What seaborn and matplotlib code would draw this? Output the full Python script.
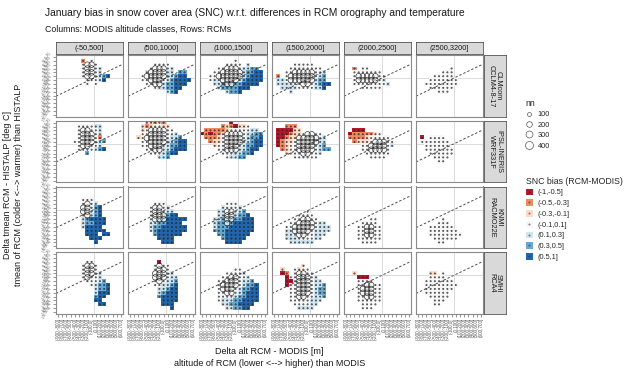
import matplotlib
matplotlib.use("Agg")
import matplotlib.pyplot as plt
from matplotlib.colors import ListedColormap
from matplotlib.lines import Line2D
from matplotlib.patches import Patch
from matplotlib.legend_handler import HandlerTuple
import numpy as np
import pandas as pd
import seaborn as sns

# ---- data ---------------------------------------------------------------
ALT_CLASSES = ["(-50,500]", "(500,1000]", "(1000,1500]", "(1500,2000]", "(2000,2500]", "(2500,3200]"]
RCMS = ["CLMcom\nCCLM4-8-17", "IPSL-INERIS\nWRF331F", "KNMI\nRACMO22E", "SMHI\nRCA4"]

# bin edges of the two discrete axes
ALT_EDGES = [-900, -800, -700, -600, -500, -400, -300, -200, -100, 0, 100, 200, 300, 400, 500, 600, 700]
TEMP_EDGES = [3, 2.5, 2, 1.5, 1, 0.5, 0, -0.5, -1, -1.5, -2, -2.5, -3, -3.5, -4, -4.5, -5]

BIAS_CLASSES = ["(-1,-0.5]", "(-0.5,-0.3]", "(-0.3,-0.1]", "(-0.1,0.1]", "(0.1,0.3]", "(0.3,0.5]", "(0.5,1]"]
BIAS_COLORS = ["#b2182b", "#ef8a62", "#fddbc7", "#f7f7f7", "#d1e5f0", "#67a9cf", "#2166ac"]
BIAS_CODES = "abcdefg"          # letter per bias class in the grids below
N_SMALL, N_LARGE = 10, 190      # lower case letter -> few pixels, upper case -> many
SIZE_BREAKS = [100, 200, 300, 400]
DIAG_SLOPE = 0.0026             # degC per m, dashed reference line

# per panel: (first grid row, rows of the tile grid; '.' = no data)
CLMCOM = [
    (1, ["......b.d.......", "......dDDd......", "......dDDde.....", "......dDDde.....",
         "......dDDdefg...", ".......dddeg....", ".......d.d......"]),
    (2, ["......dddd......", ".....dDDDde.....", "....eDDDDee.ff..", "...dDDDDDeefgg..",
         "...ddDDDdefgggg.", "....ddDDeffggg..", "......deeffgg...", ".........efg...."]),
    (1, ["........d.......", "......dddd.e....", "....ddDDDdeeff..", "...ddDDDDDeffgg.",
         "..ddDDDDDDefggg.", "..deeDDDDefgggg.", "...eefEEffgggg..", "....effffggg....",
         "......effg......"]),
    (2, [".....ddddd......", "....dddddddd....", "...ddDDDDDdde...", ".b.dDDDDDDdef...",
         ".eedDDDDDDeff...", ".eeeeddDDdefgg..", "..eeeeddddeeg...", "....e..........."]),
    (3, ["..b.dd..........", "..ddddddd.......", "..dDDDDDdd......", "..dDDDDDde......",
         "..dddddddde.....", "....ddddd......."]),
    (3, ["........d.......", "......ddd.......", "....ddddd.......", "...ddddddd......",
         "..dddddddd......", "...dddddd.......", ".....ddd........"]),
]
IPSL = [
    (1, [".....ddddee.....", ".....dDDdde.....", ".....dDDDde.....", ".....dDDDdb.....",
         "....ddDDDdef....", ".....dDDdde.....", ".....ddddefg....", ".......f........"]),
    (0, ["....ccbcb.......", "...cbcddcc......", "...cdDDDDdd.....", "...ddDDDDdde....",
         "..cdDDDDDdeef...", "...ddDDDDeefgg..", "...ddDDDdeffgg..", "....ddDDeefggg..",
         ".....dddefgg....", ".......eef......"]),
    (0, [".......a........", ".....bcbaccd....", ".bbbbbcdddddee..", "ababbcDDDDdeeff.",
         ".bbbcdDDDDdeffg.", "..bccdDDDDeefgg.", "...cddDDDdeffgg.", "....ddDDDeefgg..",
         ".....dddeeffg...", "......deeff....."]),
    (1, ["...bbb..........", ".aaaacc.........", ".aaabccdDDdd....", ".aabccDDDDDde...",
         ".abccdDDDDDee...", ".abcddDDDDdef...", "..bcddDDDDdeff..", "...cdddDDdde....",
         ".....dddddd....."]),
    (2, ["..aaa...........", ".abbbbbcd.......", ".bbbbcddddd.....", "..bcccdDDDdd....",
         "....ddDDDDde....", "....ddDDDDd.....", ".....dddddd.....", "......dddd......"]),
    (4, [".a.dddd.........", ".ddddddd........", "..dddddd........", "..ddddddd.......",
         "...dddddd.......", "....dddd........", ".....dd........."]),
]
KNMI = [
    (3, ["......ddd.......", "......dDde......", "......DDdfg.....", "......DDdfg.....",
         "......dDefg.....", "......efgggg....", "......effggg....", "......egggg.....",
         ".......ggggg....", ".......ggg.gg...", "........ggg.....", ".........g......"]),
    (4, ["......ddd.......", ".....dDDde......", ".....dDDdee.....", ".....dDDEfgg....",
         ".....dDEEggggg..", ".....eeffgggg...", ".....effgggggg..", ".....efggggggg..",
         "......fgggggg...", ".......gggg.....", "........ggg....."]),
    (4, ["......ddd.......", ".....eddde......", "....eeDDdef.....", "....eeDDeffg....",
         "...eefEEffggg...", "...effEfggggg...", "...efffgggggg...", "...fffggggggg...",
         "....ffgggggg....", ".....fggggg.....", "......gggg......"]),
    (6, ["........d.......", "......dddd......", ".....ddDDdd.....", "....ddDDDDdee...",
         "...ddDDDDDdeee..", "...eeDDDDdeeee..", "...eedDDddeee...", "...eeeddddee....",
         "....eeeeee......"]),
    (8, ["......dd........", "....dddd........", "...ddDDdd.......", "...ddDDdd.......",
         "...ddDDdd.......", "...dddddd.......", "....dddd........"]),
    (8, ["......d.........", ".....ddd........", "...dddddd.......", "...ddddddd......",
         "...dddddddd.....", "....dddddd......", ".....dd........."]),
]
SMHI = [
    (2, [".......dd.......", "......dDDd......", "......dDDd......", "......dDDde.....",
         "......dDdde.....", ".......dddef....", "........deffg...", ".........effg...",
         ".........eggg...", ".........fgg....", ".........gg.....", "..........gg...."]),
    (2, [".......a........", "......dDdd......", "......dDDd......", "......DDDde.....",
         "......DDDdee....", "......dDdeef....", "......ddeefg....", ".......eefgg....",
         ".......efggg....", ".......fgggg....", "........gggg....", "........ggg.....",
         "..........g....."]),
    (4, ["........dd......", "......dddde.....", ".....ddDDdde....", "....ddDDDdeef...",
         "....dDDDDdeffg..", "....dDDDdeffgg..", "....ddDDdefggg..", "....ddddeffggg..",
         "....deeeffgggg..", ".....eeffgggg...", "......eeffgg...."]),
    (3, [".......c........", "..c..dcdd.......", "..ab.dDDdd......", "...addDDDde.....",
         "...aadDDDdee....", "...addDDDdeef...", "....ddDDDdeff...", "....ddDDDdeff...",
         "....ddDDddeef...", "....dddddeee....", ".....ddddee.....", "......eeee......"]),
    (5, ["..c.............", "...aaa..........", "...dddd.........", "...ddDDdd.......",
         "...dDDDdd.......", "...dDDDdd.......", "...ddDDdd.......", "...dddddd.......",
         "....dddd........", "....ddd........."]),
    (5, ["...cc.d.........", "...dddd.........", "..ddddddd.......", "..dddddddd......",
         "..ddddddd.......", "..dddddd........", "...ddddd........", "....ddd.........",
         "....dd.........."]),
]
PANELS = [CLMCOM, IPSL, KNMI, SMHI]

X_LABELS = [f"({a},{b}]" for a, b in zip(ALT_EDGES[:-1], ALT_EDGES[1:])]
Y_LABELS = [f"({b:g},{a:g}]" for a, b in zip(TEMP_EDGES[:-1], TEMP_EDGES[1:])]
NX, NY = len(X_LABELS), len(Y_LABELS)


def build_panel(start_row, rows):
    codes = np.full((NY, NX), np.nan)
    px, py, pn = [], [], []
    for k, line in enumerate(rows):
        r = start_row + k
        for c, ch in enumerate(line.ljust(NX, ".")[:NX]):
            if ch == ".":
                continue
            codes[r, c] = BIAS_CODES.index(ch.lower())
            px.append(c + 0.5)
            py.append(r + 0.5)
            pn.append(N_LARGE if ch.isupper() else N_SMALL)
    return np.ma.masked_invalid(codes), pd.DataFrame({"x": px, "y": py, "n": pn})


# ---- plot ---------------------------------------------------------------
sns.set_style("white")
plt.rcParams["font.family"] = ["Liberation Sans", "DejaVu Sans"]

W, H = 635, 370
fig = plt.figure(figsize=(W / 100, H / 100), dpi=100)


def rect(x0, y0, x1, y1):
    return [x0 / W, 1 - y1 / H, (x1 - x0) / W, (y1 - y0) / H]


cmap = ListedColormap(BIAS_COLORS)
LEFT, STEP_X, PW = 56, 72, 67
TOP, PH, GAP_Y = 55, 61.75, 4
x_zero = ALT_EDGES.index(0)
y_zero = TEMP_EDGES.index(0)
slope_idx = -DIAG_SLOPE * (ALT_EDGES[1] - ALT_EDGES[0]) / (TEMP_EDGES[0] - TEMP_EDGES[1])

for i, rcm in enumerate(RCMS):
    y0 = TOP + i * (PH + GAP_Y)
    for j, alt in enumerate(ALT_CLASSES):
        x0 = LEFT + j * STEP_X
        ax = fig.add_axes(rect(x0, y0, x0 + PW, y0 + PH))
        codes, pts = build_panel(*PANELS[i][j])
        ax.axvline(x_zero, color="#d4d4d4", lw=0.6, zorder=0.5)
        ax.axhline(y_zero, color="#d4d4d4", lw=0.6, zorder=0.5)
        ax.imshow(codes, cmap=cmap, vmin=-0.5, vmax=6.5, extent=(0, NX, NY, 0),
                  interpolation="nearest", aspect="auto", zorder=1)
        ax.axline((x_zero, y_zero), slope=slope_idx, color="#4d4d4d", lw=0.7,
                  ls=(0, (2.5, 2)), zorder=2)
        sns.scatterplot(data=pts, x="x", y="y", size="n", sizes=(0, 33), size_norm=(0, 400),
                        facecolor="none", edgecolor="#262626", linewidth=0.45,
                        legend=False, ax=ax, zorder=3)
        ax.set_xlim(0, NX)
        ax.set_ylim(NY, 0)
        ax.set_xlabel("")
        ax.set_ylabel("")
        ax.grid(False)
        for s in ax.spines.values():
            s.set_visible(True)
            s.set_color("#8a8a8a")
            s.set_linewidth(0.8)
        ax.set_xticks(np.arange(NX) + 0.5)
        ax.set_yticks(np.arange(NY) + 0.5)
        bottom, left = i == len(RCMS) - 1, j == 0
        ax.set_xticklabels(X_LABELS if bottom else [], rotation=90, fontsize=3.3, color="#555555")
        ax.set_yticklabels(Y_LABELS if left else [], rotation=60, fontsize=3.0, color="#555555",
                           va="center", ha="right")
        ax.tick_params(bottom=bottom, left=left, length=2, width=0.4, color="#444444", pad=1)

        if i == 0:
            sax = fig.add_axes(rect(x0, 42, x0 + PW, 54))
            sax.set_facecolor("#d9d9d9")
            sax.set_xticks([])
            sax.set_yticks([])
            for s in sax.spines.values():
                s.set_color("#555555")
                s.set_linewidth(0.6)
            sax.text(0.5, 0.5, alt, ha="center", va="center", fontsize=5.3,
                     color="#1a1a1a", transform=sax.transAxes)
    sax = fig.add_axes(rect(484, y0, 506, y0 + PH))
    sax.set_facecolor("#d9d9d9")
    sax.set_xticks([])
    sax.set_yticks([])
    for s in sax.spines.values():
        s.set_color("#555555")
        s.set_linewidth(0.6)
    sax.text(0.5, 0.5, rcm, ha="center", va="center", fontsize=5.3, rotation=-90,
             color="#1a1a1a", transform=sax.transAxes, linespacing=1.0)

fig.text(45 / W, 1 - 13 / H,
         "January bias in snow cover area (SNC) w.r.t. differences in RCM orography and temperature",
         fontsize=7.4, va="center", ha="left", color="#1a1a1a")
fig.text(45 / W, 1 - 29 / H, "Columns: MODIS altitude classes, Rows: RCMs",
         fontsize=6.3, va="center", ha="left", color="#1a1a1a")

mid_x = (LEFT + 5 * STEP_X + PW + LEFT) / 2
fig.text(mid_x / W, 1 - 352 / H, "Delta alt RCM - MODIS [m]", fontsize=6.5,
         ha="center", va="center", color="#1a1a1a")
fig.text(mid_x / W, 1 - 363 / H, "altitude of RCM (lower <--> higher) than MODIS", fontsize=6.5,
         ha="center", va="center", color="#1a1a1a")
mid_y = TOP + 2 * (PH + GAP_Y) - GAP_Y / 2
fig.text(8 / W, 1 - mid_y / H, "Delta tmean RCM - HISTALP [deg C]", fontsize=6.5,
         rotation=90, ha="center", va="center", color="#1a1a1a")
fig.text(19 / W, 1 - mid_y / H, "tmean of RCM (colder <--> warmer) than HISTALP", fontsize=6.5,
         rotation=90, ha="center", va="center", color="#1a1a1a")

size_handles = [Line2D([], [], marker="o", ls="", ms=np.sqrt(33 * n / 400), mfc="none",
                       mec="#555555", mew=0.5) for n in SIZE_BREAKS]
leg1 = fig.legend(size_handles, [str(n) for n in SIZE_BREAKS], title="nn", loc="upper left",
                  bbox_to_anchor=(522 / W, 1 - 95 / H), frameon=False, fontsize=5.3,
                  title_fontsize=6.3, handlelength=1.0, handletextpad=0.6, labelspacing=0.45,
                  borderpad=0, alignment="left")
bias_handles = [(Patch(fc=c, ec="none"),
                 Line2D([], [], marker="o", ls="", ms=0.9, mfc="none", mec="#333333", mew=0.35))
                for c in BIAS_COLORS]
leg2 = fig.legend(bias_handles, BIAS_CLASSES, title="SNC bias (RCM-MODIS)", loc="upper left",
                  bbox_to_anchor=(522 / W, 1 - 173 / H), frameon=False, fontsize=5.3,
                  title_fontsize=6.3, handlelength=1.0, handleheight=1.0, handletextpad=0.6,
                  labelspacing=0.4, borderpad=0, alignment="left",
                  handler_map={tuple: HandlerTuple(ndivide=1)})

fig.savefig("out.png", dpi=100)
